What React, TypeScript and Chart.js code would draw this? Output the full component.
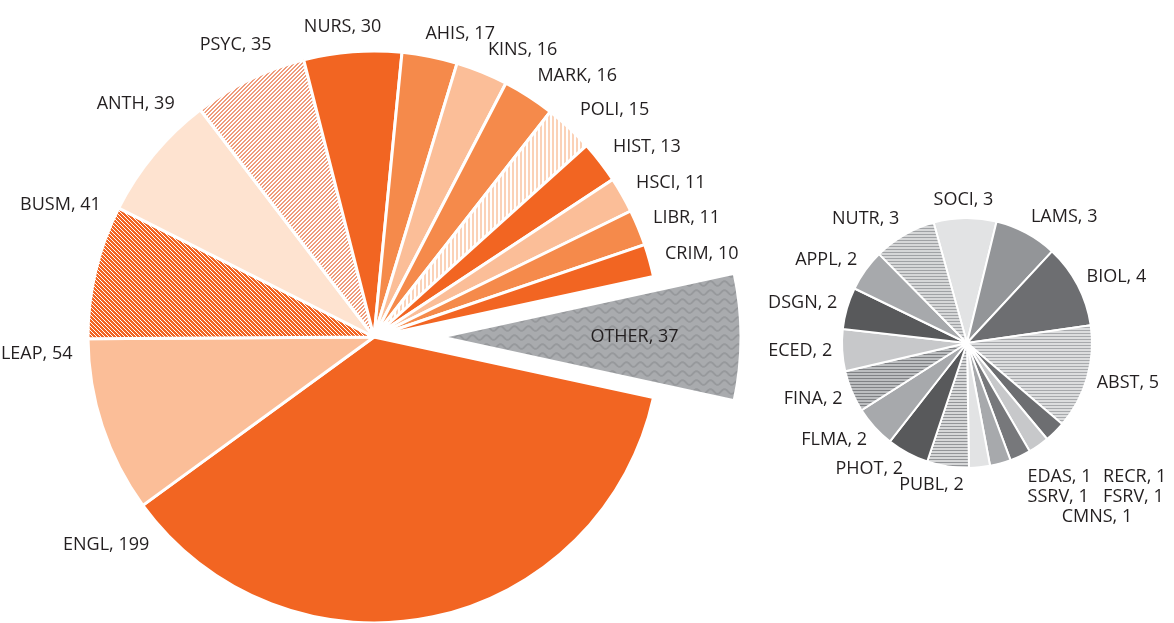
import React, { useEffect, useRef } from "react";
import { Chart, registerables } from "chart.js";

Chart.register(...registerables);

// ---------- data ----------
const mainCategories = ["OTHER", "ENGL", "LEAP", "BUSM", "ANTH", "PSYC", "NURS", "AHIS", "KINS", "MARK", "POLI", "HIST", "HSCI", "LIBR", "CRIM"];
const mainValues = [37, 199, 54, 41, 39, 35, 30, 17, 16, 16, 15, 13, 11, 11, 10];

const otherCategories = ["SOCI", "LAMS", "BIOL", "ABST", "EDAS", "RECR", "SSRV", "FSRV", "CMNS", "PUBL", "PHOT", "FLMA", "FINA", "ECED", "DSGN", "APPL", "NUTR"];
const otherValues = [3, 3, 4, 5, 1, 1, 1, 1, 1, 2, 2, 2, 2, 2, 2, 2, 3];

// ---------- styles / layout ----------
const W = 1174;
const H = 623;
const FONT = '18px "Open Sans", "Noto Sans", sans-serif';
const TEXT = "#231f20";

const MAIN_RADIUS = 286;
const OTHER_SLICE_RADIUS = 300;
const EXPLODE = 67;
const SMALL_RADIUS = 125;
const SMALL_ROTATION = -15.5;

// label angle nudges (degrees) for the main pie
const mainLabelShift = [0, 60, 15, 12, 9, 6, 0, 1, 0, 0, 0, 0, 0, 0, 0];

const ORANGE = "#F26522";
const MID = "#F58A4B";
const LIGHT = "#FBBE98";
const PALE = "#FEE3D0";

type Fill = string | { kind: string; base: string; line: string };

const mainFills: Fill[] = [
  { kind: "wave", base: "#A9ABAE", line: "#97999C" },
  ORANGE,
  LIGHT,
  { kind: "back", base: ORANGE, line: "#FFFFFF" },
  PALE,
  { kind: "fwd", base: "#FFFFFF", line: "#EF9C7B" },
  ORANGE,
  MID,
  LIGHT,
  MID,
  { kind: "vert", base: "#FFFFFF", line: "#FBD2B8" },
  ORANGE,
  LIGHT,
  MID,
  ORANGE,
];

const otherFills: Fill[] = [
  "#E2E3E4",
  "#939598",
  "#6D6E71",
  { kind: "horiz", base: "#DCDDDE", line: "#A7A9AC" },
  "#6D6E71",
  "#C7C8CA",
  "#77787B",
  "#A7A9AC",
  "#E2E3E4",
  { kind: "horiz", base: "#D6D7D8", line: "#939598" },
  "#58595B",
  "#A7A9AC",
  { kind: "horiz", base: "#BCBEC0", line: "#808285" },
  "#C7C8CA",
  "#58595B",
  "#A7A9AC",
  { kind: "horiz", base: "#D6D7D8", line: "#A0A2A5" },
];

function makeFill(ctx: CanvasRenderingContext2D, f: Fill): any {
  if (typeof f === "string") return f;
  const t = document.createElement("canvas");
  if (f.kind === "wave") {
    t.width = 14;
    t.height = 9;
    const g = t.getContext("2d")!;
    g.fillStyle = f.base;
    g.fillRect(0, 0, t.width, t.height);
    g.strokeStyle = f.line;
    g.lineWidth = 1.8;
    g.beginPath();
    for (let x = -1; x <= 15; x += 0.5) {
      const y = 4.5 + 2.3 * Math.sin((2 * Math.PI * x) / 14);
      if (x === -1) g.moveTo(x, y);
      else g.lineTo(x, y);
    }
    g.stroke();
    return ctx.createPattern(t, "repeat");
  }
  const s = f.kind === "horiz" ? 3 : 4;
  t.width = s;
  t.height = s;
  const g = t.getContext("2d")!;
  g.fillStyle = f.base;
  g.fillRect(0, 0, s, s);
  g.fillStyle = f.line;
  for (let y = 0; y < s; y++) {
    for (let x = 0; x < s; x++) {
      let on = false;
      if (f.kind === "back") on = (((x - y) % s) + s) % s === 0;
      else if (f.kind === "fwd") on = (x + y) % s < 2;
      else if (f.kind === "vert") on = x % s < 2;
      else if (f.kind === "horiz") on = y % s === 0;
      if (on) g.fillRect(x, y, 1, 1);
    }
  }
  return ctx.createPattern(t, "repeat");
}

function drawOutsideLabel(ctx: CanvasRenderingContext2D, cx: number, cy: number, r: number, ang: number, text: string) {
  const ax = cx + r * Math.cos(ang);
  const ay = cy + r * Math.sin(ang);
  const w = ctx.measureText(text).width;
  const h = 17;
  const k = Math.max(-1, Math.min(1, 3 * Math.cos(ang)));
  const x = ax + (k * w) / 2;
  const y = ay + (Math.sin(ang) * h) / 2;
  ctx.fillText(text, x, y);
}

const explodePlugin = {
  id: "explodeOther",
  afterDatasetsUpdate(chart: any) {
    const arc = chart.getDatasetMeta(0).data[0];
    if (!arc) return;
    const mid = (arc.startAngle + arc.endAngle) / 2;
    arc.x += EXPLODE * Math.cos(mid);
    arc.y += EXPLODE * Math.sin(mid);
    arc.outerRadius = OTHER_SLICE_RADIUS;
  },
};

const mainLabelPlugin = {
  id: "mainLabels",
  afterDatasetsDraw(chart: any) {
    const ctx = chart.ctx as CanvasRenderingContext2D;
    const arcs = chart.getDatasetMeta(0).data;
    ctx.save();
    ctx.font = FONT;
    ctx.fillStyle = TEXT;
    ctx.textAlign = "center";
    ctx.textBaseline = "middle";
    arcs.forEach((arc: any, i: number) => {
      const text = `${mainCategories[i]}, ${mainValues[i]}`;
      const mid = (arc.startAngle + arc.endAngle) / 2;
      if (i === 0) {
        const d = arc.outerRadius * 0.645;
        ctx.fillText(text, arc.x + d * Math.cos(mid), arc.y + d * Math.sin(mid));
        return;
      }
      const ang = mid + (mainLabelShift[i] * Math.PI) / 180;
      drawOutsideLabel(ctx, arc.x, arc.y, arc.outerRadius + 16, ang, text);
    });
    ctx.restore();
  },
};

const smallLabelPlugin = {
  id: "smallLabels",
  afterDatasetsDraw(chart: any) {
    const ctx = chart.ctx as CanvasRenderingContext2D;
    const arcs = chart.getDatasetMeta(0).data;
    ctx.save();
    ctx.font = FONT;
    ctx.fillStyle = TEXT;
    ctx.textAlign = "center";
    ctx.textBaseline = "middle";
    const group: number[] = [];
    arcs.forEach((arc: any, i: number) => {
      if (otherValues[i] === 1) {
        group.push(i);
        return;
      }
      const text = `${otherCategories[i]}, ${otherValues[i]}`;
      const mid = (arc.startAngle + arc.endAngle) / 2;
      drawOutsideLabel(ctx, arc.x, arc.y, arc.outerRadius + 10, mid, text);
    });
    if (group.length) {
      const a0 = arcs[group[0]];
      const a1 = arcs[group[group.length - 1]];
      const mid = (a0.startAngle + a1.endAngle) / 2;
      const r = a0.outerRadius + 10;
      const ax = a0.x + r * Math.cos(mid) + 3;
      const ay = a0.y + r * Math.sin(mid) + 12;
      const texts = group.map((i) => `${otherCategories[i]}, ${otherValues[i]}`);
      const rows: string[][] = [];
      for (let j = 0; j < texts.length; j += 2) rows.push(texts.slice(j, j + 2));
      const col1W = Math.max(...rows.map((rw) => ctx.measureText(rw[0]).width));
      const col2X = ax + col1W + 5;
      const col2W = Math.max(...rows.filter((rw) => rw.length > 1).map((rw) => ctx.measureText(rw[1]).width));
      ctx.textAlign = "left";
      rows.forEach((rw, ri) => {
        const y = ay + ri * 20;
        if (rw.length === 2) {
          ctx.fillText(rw[0], ax, y);
          ctx.fillText(rw[1], col2X, y);
        } else {
          ctx.textAlign = "center";
          ctx.fillText(rw[0], (ax + col2X + col2W) / 2, y);
          ctx.textAlign = "left";
        }
      });
    }
    ctx.restore();
  },
};

export default function App() {
  const mainRef = useRef<HTMLCanvasElement>(null);
  const smallRef = useRef<HTMLCanvasElement>(null);

  useEffect(() => {
    const mc = mainRef.current!;
    const sc = smallRef.current!;
    const mctx = mc.getContext("2d")!;
    const sctx = sc.getContext("2d")!;
    const total = mainValues.reduce((a, b) => a + b, 0);
    const otherSweep = (mainValues[0] / total) * 360;

    const mainChart = new Chart(mc, {
      type: "pie",
      data: {
        labels: mainCategories,
        datasets: [
          {
            data: mainValues,
            backgroundColor: mainFills.map((f) => makeFill(mctx, f)),
            borderColor: "#FFFFFF",
            borderWidth: 3,
            radius: MAIN_RADIUS,
            rotation: 90 - otherSweep / 2,
            clip: false,
          } as any,
        ],
      },
      options: {
        responsive: false,
        animation: false,
        events: [],
        layout: { padding: { left: 0, right: W - 2 * 374, top: 2 * 337 - H, bottom: 0 } },
        plugins: { legend: { display: false }, tooltip: { enabled: false } },
      } as any,
      plugins: [explodePlugin, mainLabelPlugin],
    });

    const smallChart = new Chart(sc, {
      type: "pie",
      data: {
        labels: otherCategories,
        datasets: [
          {
            data: otherValues,
            backgroundColor: otherFills.map((f) => makeFill(sctx, f)),
            borderColor: "#FFFFFF",
            borderWidth: 2,
            radius: SMALL_RADIUS,
            rotation: SMALL_ROTATION,
            clip: false,
          } as any,
        ],
      },
      options: {
        responsive: false,
        animation: false,
        events: [],
        layout: { padding: { left: 2 * 967 - W, right: 0, top: 2 * 343 - H, bottom: 0 } },
        plugins: { legend: { display: false }, tooltip: { enabled: false } },
      } as any,
      plugins: [smallLabelPlugin],
    });

    return () => {
      mainChart.destroy();
      smallChart.destroy();
    };
  }, []);

  const canvasStyle: React.CSSProperties = { position: "absolute", left: 0, top: 0, width: W, height: H };
  return (
    <div style={{ position: "fixed", left: 0, top: 0, width: W, height: H, background: "#FFFFFF", overflow: "hidden" }}>
      <canvas ref={mainRef} width={W} height={H} style={canvasStyle} />
      <canvas ref={smallRef} width={W} height={H} style={canvasStyle} />
    </div>
  );
}
